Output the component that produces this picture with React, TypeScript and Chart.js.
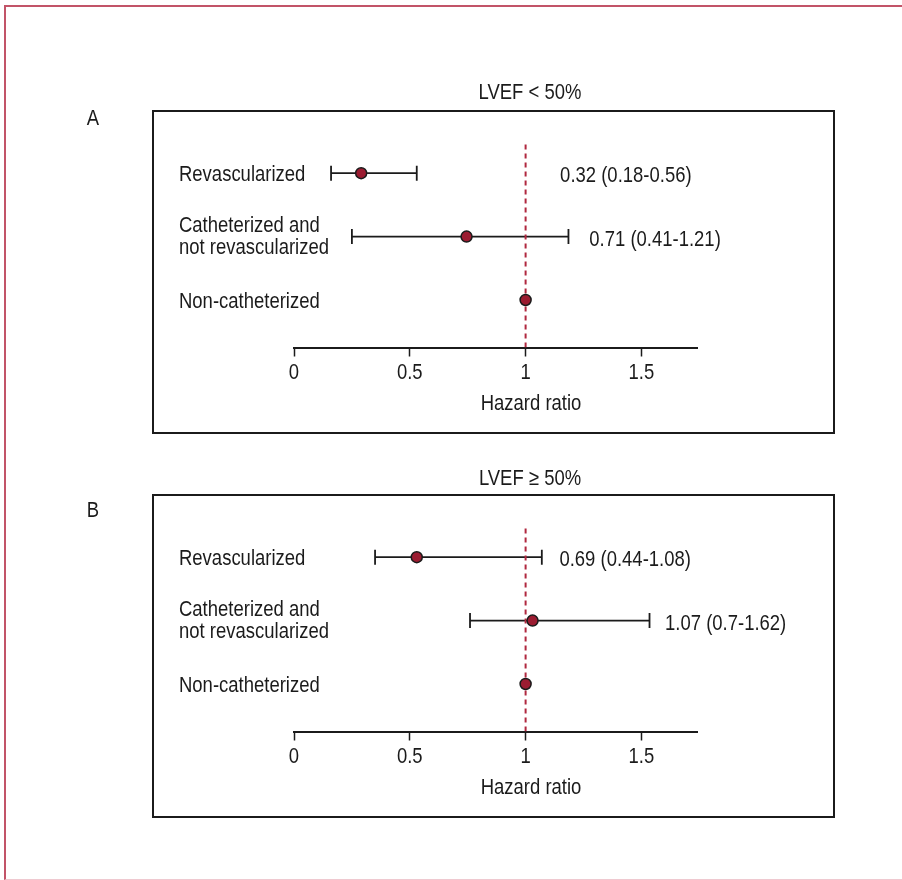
import React, { useEffect, useRef } from 'react';
import { Chart, registerables } from 'chart.js';

Chart.register(...registerables);

// ---------- data ----------
const ROW_LABELS = ['Revascularized', 'Catheterized and\nnot revascularized', 'Non-catheterized'];
const ROW_POS = [3, 2, 1];
const X_TICKS = [0, 0.5, 1, 1.5];
const X_MIN = 0;
const X_MAX = 1.74;
const REF_HR = 1;
const AXIS_TITLE = 'Hazard ratio';

const A_LETTER = 'A';
const A_TITLE = 'LVEF < 50%';
const A_HR = [0.29, 0.745, 1.0];
const A_LO = [0.16, 0.25, null];
const A_HI = [0.53, 1.185, null];
const A_TEXT = ['0.32 (0.18-0.56)', '0.71 (0.41-1.21)', ''];

const B_LETTER = 'B';
const B_TITLE = 'LVEF \u2265 50%';
const B_HR = [0.53, 1.03, 1.0];
const B_LO = [0.35, 0.76, null];
const B_HI = [1.07, 1.535, null];
const B_TEXT = ['0.69 (0.44-1.08)', '1.07 (0.7-1.62)', ''];

// ---------- style / layout ----------
const FONT = '"Liberation Sans", Arial, "DejaVu Sans", sans-serif';
const FONT_SIZE = 22;
const TEXT_SX = 0.84; // horizontal squeeze to mimic a condensed face
const INK = '#1b1b1b';
const POINT_FILL = '#9b1c31';
const REF_COLOR = '#b0283f';
const FRAME = '#c25468';
const Y_MIN = 0.25;
const Y_MAX = 3.5;
const CANVAS_W = 902;
const CANVAS_H = 384;
const CAP_HALF = 8;

type Layout = {
  top: number;
  titleBase: number;
  letterBase: number;
  annotX: number[];
};

const A_LAYOUT: Layout = { top: 60, titleBase: 38.5, letterBase: 65, annotX: [1.149, 1.275] };
const B_LAYOUT: Layout = { top: 444, titleBase: 41, letterBase: 73, annotX: [1.146, 1.602] };

type PanelProps = {
  letter: string;
  title: string;
  hr: number[];
  lo: (number | null)[];
  hi: (number | null)[];
  text: string[];
  layout: Layout;
};

function drawText(ctx: CanvasRenderingContext2D, str: string, x: number, y: number, align: CanvasTextAlign) {
  ctx.save();
  ctx.translate(x, y);
  ctx.scale(TEXT_SX, 1);
  ctx.textAlign = align;
  ctx.fillText(str, 0, 0);
  ctx.restore();
}

function ForestPanel({ letter, title, hr, lo, hi, text, layout }: PanelProps) {
  const ref = useRef<HTMLCanvasElement | null>(null);

  useEffect(() => {
    const canvas = ref.current;
    if (!canvas) return;

    const datasets: any[] = [
      {
        label: 'HR',
        data: hr.map((v, i) => ({ x: v, y: ROW_POS[i] })),
        showLine: false,
        pointRadius: 5.5,
        pointHoverRadius: 5.5,
        pointBackgroundColor: POINT_FILL,
        pointBorderColor: INK,
        pointBorderWidth: 1.5,
        order: 0,
      },
      {
        label: 'ref',
        data: [
          { x: REF_HR, y: Y_MIN },
          { x: REF_HR, y: Y_MAX },
        ],
        showLine: true,
        borderColor: REF_COLOR,
        borderWidth: 2,
        borderDash: [5, 4],
        pointRadius: 0,
        order: 1,
      },
    ];
    hr.forEach((_, i) => {
      if (lo[i] == null || hi[i] == null) return;
      datasets.push({
        label: 'ci' + i,
        data: [
          { x: lo[i], y: ROW_POS[i] },
          { x: hi[i], y: ROW_POS[i] },
        ],
        showLine: true,
        borderColor: INK,
        borderWidth: 1.8,
        pointStyle: 'line',
        pointRotation: 90,
        pointRadius: 7.5,
        pointHoverRadius: 7.5,
        pointBorderColor: INK,
        pointBorderWidth: 1.8,
        order: 2,
      });
    });

    const overlay = {
      id: 'overlay',
      afterDraw(chart: any) {
        const ctx: CanvasRenderingContext2D = chart.ctx;
        const x = chart.scales.x;
        const y = chart.scales.y;
        ctx.save();
        // panel box
        ctx.strokeStyle = INK;
        ctx.lineWidth = 2;
        ctx.strokeRect(153, 51, 681, 322);
        // texts
        ctx.fillStyle = INK;
        ctx.font = `${FONT_SIZE}px ${FONT}`;
        ctx.textBaseline = 'alphabetic';
        drawText(ctx, title, 530, layout.titleBase, 'center');
        drawText(ctx, letter, 93, layout.letterBase, 'center');
        drawText(ctx, AXIS_TITLE, 531, 349.5, 'center');
        // tick labels from the scale's own ticks
        x.ticks.forEach((t: any) => {
          drawText(ctx, String(t.value), x.getPixelForValue(t.value), x.top + 31, 'center');
        });
        ROW_LABELS.forEach((lab, i) => {
          const lines = lab.split('\n');
          const cy = y.getPixelForValue(ROW_POS[i]);
          const lh = 22;
          const first = cy - ((lines.length - 1) * lh) / 2 - (lines.length > 1 ? 2 : 0);
          lines.forEach((ln, j) => drawText(ctx, ln, 179, first + j * lh + CAP_HALF, 'left'));
        });
        text.forEach((t, i) => {
          if (!t) return;
          drawText(ctx, t, x.getPixelForValue(layout.annotX[i]), y.getPixelForValue(ROW_POS[i]) + CAP_HALF + 1, 'left');
        });
        ctx.restore();
      },
    };

    const chart = new Chart(canvas, {
      type: 'scatter',
      data: { datasets },
      options: {
        responsive: false,
        animation: false,
        events: [],
        layout: { padding: { left: 294, right: 205, top: 81.5, bottom: 56.5 } },
        plugins: {
          legend: { display: false },
          tooltip: { enabled: false },
        },
        scales: {
          x: {
            type: 'linear',
            position: 'bottom',
            min: X_MIN,
            max: X_MAX,
            afterBuildTicks: (s: any) => {
              s.ticks = X_TICKS.map((v) => ({ value: v }));
            },
            afterFit: (s: any) => {
              s.height = 40;
            },
            ticks: { display: false },
            grid: {
              drawOnChartArea: false,
              drawTicks: true,
              tickLength: 9,
              tickColor: INK,
              tickWidth: 1.5,
            },
            border: { display: true, color: INK, width: 2 },
          },
          y: {
            type: 'linear',
            min: Y_MIN,
            max: Y_MAX,
            display: false,
          },
        },
      } as any,
      plugins: [overlay],
    });

    return () => chart.destroy();
  }, [letter, title, hr, lo, hi, text, layout]);

  return (
    <canvas
      ref={ref}
      width={CANVAS_W}
      height={CANVAS_H}
      style={{ position: 'absolute', left: 0, top: layout.top, width: CANVAS_W, height: CANVAS_H }}
    />
  );
}

export default function App() {
  return (
    <div style={{ position: 'absolute', left: 0, top: 0, width: 902, height: 880, background: '#ffffff', overflow: 'hidden' }}>
      <div
        style={{
          position: 'absolute',
          left: 4,
          top: 5,
          width: 898,
          height: 875,
          boxSizing: 'border-box',
          borderTop: `2px solid ${FRAME}`,
          borderLeft: `2px solid ${FRAME}`,
          borderBottom: '1px solid #efc9d0',
        }}
      />
      <ForestPanel letter={A_LETTER} title={A_TITLE} hr={A_HR} lo={A_LO} hi={A_HI} text={A_TEXT} layout={A_LAYOUT} />
      <ForestPanel letter={B_LETTER} title={B_TITLE} hr={B_HR} lo={B_LO} hi={B_HI} text={B_TEXT} layout={B_LAYOUT} />
    </div>
  );
}
